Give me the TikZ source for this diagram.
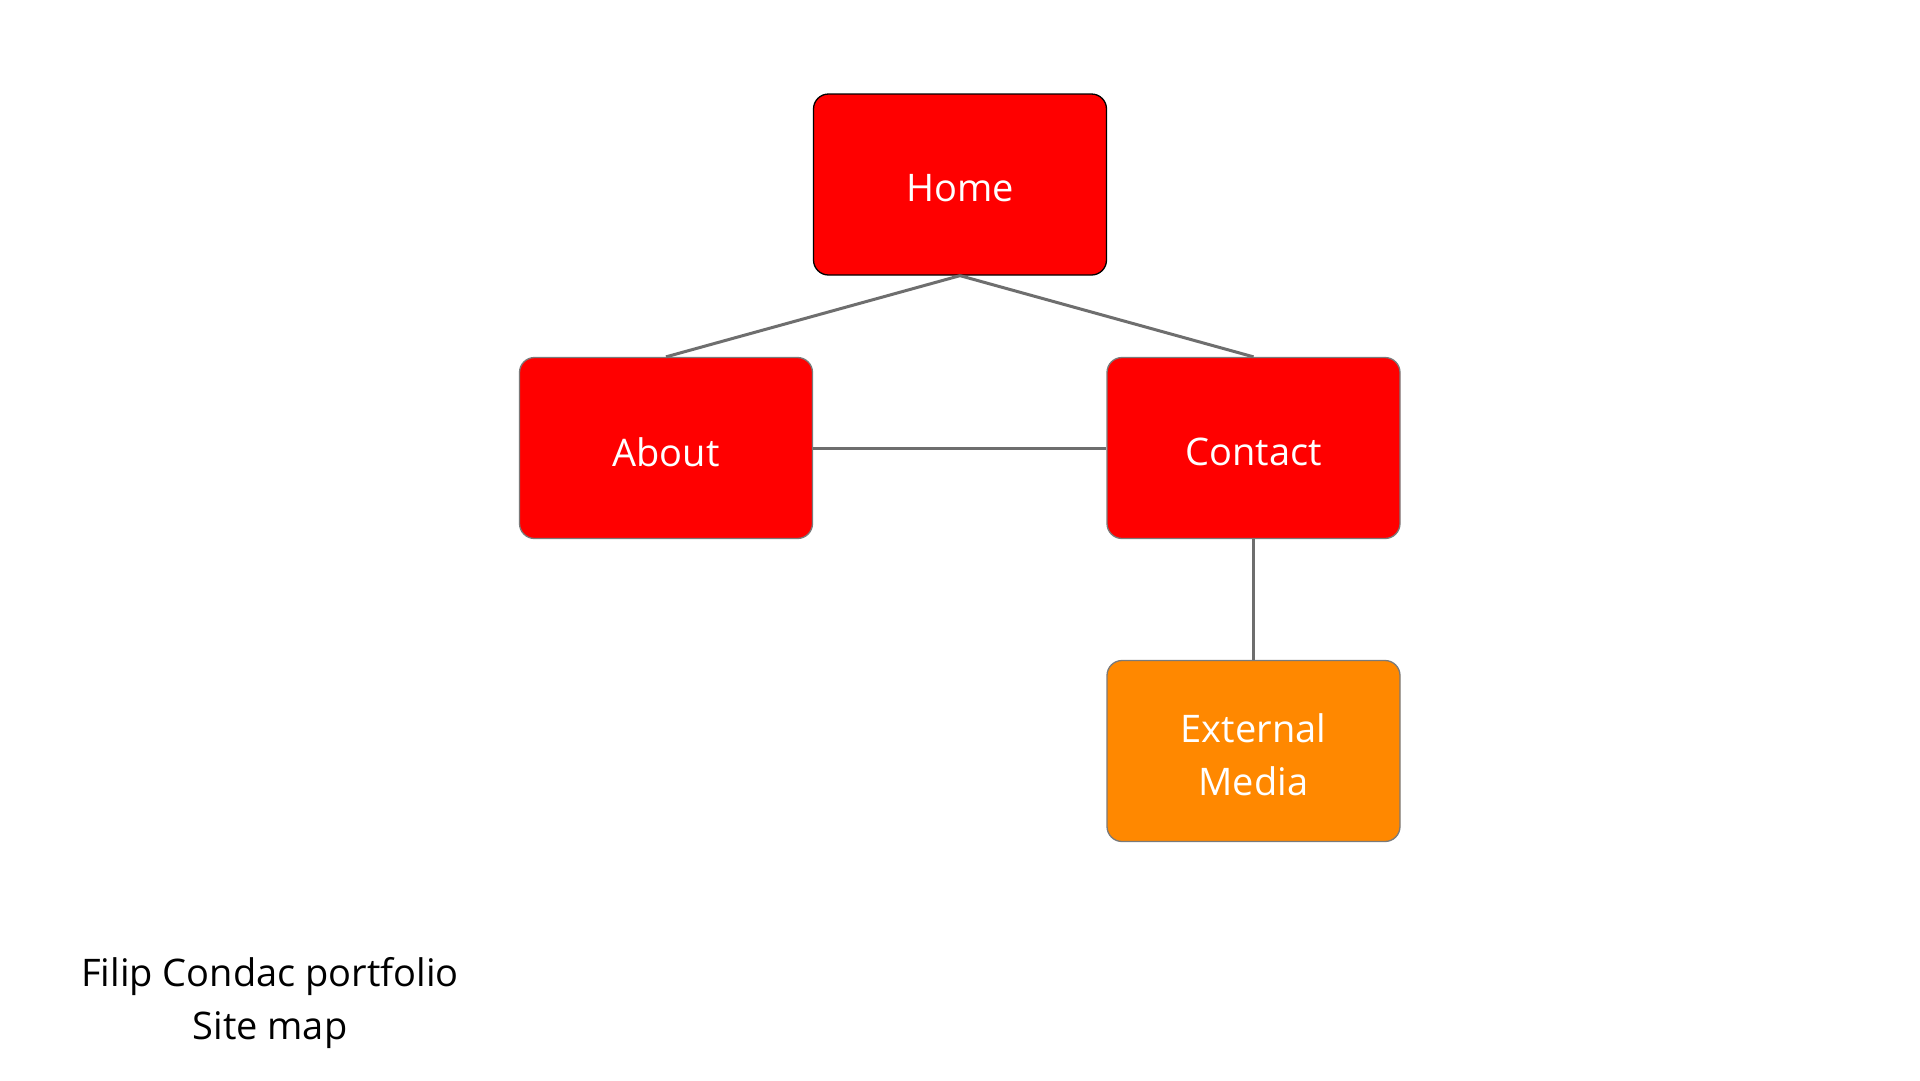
\documentclass[tikz,border=0pt]{standalone}
\usepackage{fontspec}
\setmainfont{Open Sans}
\definecolor{boxred}{HTML}{FF0000}
\definecolor{boxorange}{HTML}{FF8800}
\definecolor{linegray}{HTML}{6E6E6E}
\definecolor{bordergray}{HTML}{7A7A7A}
\begin{document}
\begin{tikzpicture}[x=1pt,y=-1pt,
  pagebox/.style={rectangle, rounded corners=15pt, minimum width=293pt, minimum height=181pt, inner sep=0pt, line width=1.3pt},
  pagetext/.style={text=white, align=center, font=\fontsize{38}{53}\selectfont, inner sep=0pt, yshift=-4pt},
  conn/.style={draw=linegray, line width=3pt}]
\useasboundingbox (0,0) rectangle (1920,1080);
\fill[white] (0,0) rectangle (1920,1080);
\node[pagebox, fill=boxred, draw=black, label={[pagetext]center:Home}] (home) at (960,184.5) {};
\node[pagebox, fill=boxred, draw=bordergray, label={[pagetext]center:About}] (about) at (666,448) {};
\node[pagebox, fill=boxred, draw=bordergray, label={[pagetext]center:Contact}] (contact) at (1253.5,448) {};
\node[pagebox, fill=boxorange, draw=bordergray, label={[pagetext]center:External\\Media}] (ext) at (1253.5,751) {};
\draw[conn] (home.south) -- (about.north);
\draw[conn] (home.south) -- (contact.north);
\draw[conn] (about.east) -- (contact.west);
\draw[conn] (contact.south) -- (ext.north);
\node[align=center, font=\fontsize{38}{53}\selectfont, inner sep=0pt] (title) at (270,1003) {Filip Condac portfolio\\Site map};
\end{tikzpicture}
\end{document}
